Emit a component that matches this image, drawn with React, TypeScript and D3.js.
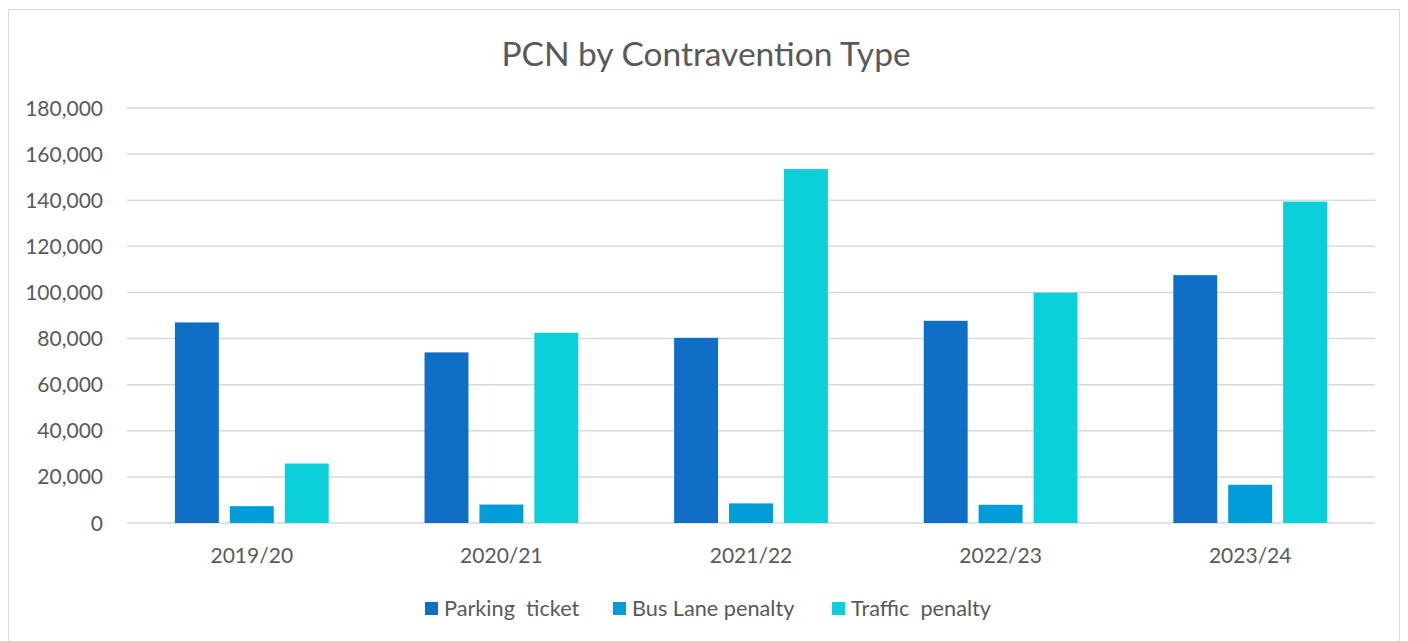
import React from 'react';
import * as d3 from 'd3';

const years = ['2019/20', '2020/21', '2021/22', '2022/23', '2023/24'];
const seriesNames = ['Parking  ticket', 'Bus Lane penalty', 'Traffic  penalty'];
const parking = [87000, 74000, 80300, 87700, 107500];
const busLane = [7300, 8000, 8500, 7900, 16600];
const traffic = [25800, 82500, 153500, 99900, 139400];
const colors = ['#0F6FC6', '#009DD9', '#0BD0D9'];
const yTicks = [0, 20000, 40000, 60000, 80000, 100000, 120000, 140000, 160000, 180000];

const W = 1408;
const H = 641;
const FONT = 'Lato, "Open Sans", sans-serif';
const TXT = '#595959';

const App = () => {
  const series = [parking, busLane, traffic];
  const margin = { top: 108, right: 33, bottom: 118, left: 127 };

  const x = d3.scaleBand().domain(years).range([margin.left, W - margin.right]);
  const y = d3.scaleLinear().domain([0, 180000]).range([H - margin.bottom, margin.top]);

  // bar width 44 with 11px gaps inside a ~250px band
  const barW = x.bandwidth() * 0.176;
  const step = barW * 1.25;
  const groupW = step * 2 + barW;
  const fmt = d3.format(',');

  const legendX = [425, 613, 832];

  return (
    <svg width={W} height={H} style={{ position: 'absolute', left: 0, top: 0 }} fontFamily={FONT}>
      <rect x={8.5} y={9.5} width={1391} height={640} fill='#fff' stroke='#D9D9D9' />
      <text x={706} y={66} textAnchor='middle' fontSize={33.5} fill={TXT}>PCN by Contravention Type</text>

      {yTicks.map(t => (
        <g key={t}>
          <line x1={margin.left} x2={W - margin.right} y1={y(t)} y2={y(t)} stroke='#D9D9D9' strokeWidth={1.5} />
          <text x={103} y={y(t)} dy='0.36em' textAnchor='end' fontSize={21} fill={TXT}>{fmt(t)}</text>
        </g>
      ))}

      {years.map((yr, i) => {
        const x0 = x(yr)! + (x.bandwidth() - groupW) / 2;
        return (
          <g key={yr}>
            {series.map((s, j) => (
              <rect key={j} x={x0 + j * step} y={y(s[i])} width={barW} height={y(0) - y(s[i])} fill={colors[j]} />
            ))}
            <text x={x(yr)! + x.bandwidth() / 2} y={563} textAnchor='middle' fontSize={21} fill={TXT}>{yr}</text>
          </g>
        );
      })}

      {seriesNames.map((n, j) => (
        <g key={n}>
          <rect x={legendX[j]} y={602} width={13} height={13} fill={colors[j]} />
          <text x={legendX[j] + 19} y={616} fontSize={21.7} fill={TXT} style={{ whiteSpace: 'pre' }}>{n}</text>
        </g>
      ))}
    </svg>
  );
};

export default App;
